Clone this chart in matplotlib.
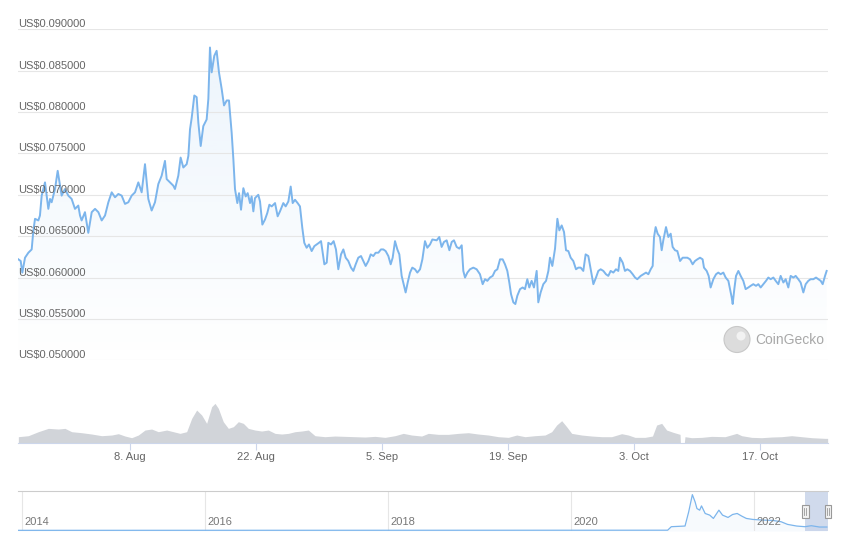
"""Recreate a CoinGecko style 90 day price chart with volume and navigator."""

import matplotlib

matplotlib.use("Agg")
import matplotlib.dates as mdates
import matplotlib.pyplot as plt
import numpy as np
import pandas as pd
from matplotlib.colors import to_rgb
from matplotlib.patches import Ellipse, Rectangle

plt.rcParams["font.family"] = ["Liberation Sans", "DejaVu Sans"]

# ---------------------------------------------------------------- data
RANGE_START = pd.Timestamp("2022-07-26 13:20")
RANGE_END = pd.Timestamp("2022-10-24 13:20")

# days after RANGE_START, price in USD
price_days = [
    0.04, 0.30, 0.48, 0.78, 1.15, 1.52, 1.70, 1.89, 2.26, 2.44, 2.63, 3.00, 3.19, 3.37, 3.56, 3.74,
    4.11, 4.41, 4.67, 4.85, 5.22, 5.59, 5.96, 6.33, 6.70, 6.89, 7.07, 7.44, 7.81, 8.19, 8.56, 8.93,
    9.30, 9.67, 10.04, 10.41, 10.78, 11.15, 11.52, 11.89, 12.26, 12.63, 13.00, 13.37, 13.74, 14.11,
    14.48, 14.85, 15.22, 15.59, 15.96, 16.33, 16.52, 16.89, 17.26, 17.44, 17.81, 18.07, 18.37, 18.74,
    18.93, 19.11, 19.30, 19.59, 19.85, 20.04, 20.30, 20.59, 20.96, 21.15, 21.33, 21.52, 21.81, 22.07,
    22.33, 22.63, 22.89, 23.19, 23.44, 23.74, 23.93, 24.11,
    24.19, 24.37, 24.56, 24.78, 25.04, 25.30, 25.52, 25.78, 25.96, 26.15, 26.33, 26.70, 26.89, 27.15,
    27.44, 27.70, 27.93, 28.19, 28.56, 28.85, 29.11, 29.48, 29.74, 30.04, 30.30, 30.52, 30.78, 31.07,
    31.33, 31.59, 31.81, 32.07, 32.33, 32.63, 32.93, 33.19, 33.44, 33.67, 33.85, 34.04, 34.30, 34.48,
    34.78, 35.07, 35.33, 35.59, 35.89, 36.15, 36.41, 36.70, 37.00, 37.26, 37.52, 37.81, 38.11, 38.37,
    38.63, 38.93, 39.19, 39.48, 39.74, 40.04, 40.33, 40.59, 40.85, 41.15, 41.41, 41.63, 41.89, 42.15,
    42.37, 42.63, 42.89, 43.07, 43.30, 43.56, 43.81, 44.11, 44.37, 44.67, 44.93, 45.22, 45.48, 45.78,
    46.04,
    46.52, 46.81, 47.07, 47.33, 47.63, 47.93, 48.19, 48.44, 48.74, 49.04, 49.30, 49.48, 49.67, 49.93,
    50.22, 50.59, 50.96, 51.33, 51.63, 51.89, 52.15, 52.44, 52.74, 53.00, 53.26, 53.56, 53.85, 54.11,
    54.37, 54.59, 54.78, 55.04, 55.26, 55.48, 55.78, 56.07, 56.33, 56.59, 56.81, 57.07, 57.33, 57.63,
    57.81, 58.07, 58.37, 58.67, 58.93, 59.11, 59.37, 59.67, 59.93, 60.15, 60.41, 60.67, 60.89, 61.15,
    61.41, 61.70, 62.00, 62.26, 62.52, 62.81, 63.07, 63.37, 63.63, 63.93, 64.22, 64.48, 64.74, 65.04,
    65.33, 65.59, 65.85, 66.15, 66.44, 66.70, 66.89, 67.19, 67.44, 67.70, 68.00, 68.30, 68.56, 68.81,
    69.19, 69.48, 69.78, 70.04, 70.30, 70.52, 70.67, 70.85, 71.07, 71.33, 71.52, 71.70, 72.00, 72.26,
    72.52, 72.74, 73.00, 73.26, 73.56, 73.85, 74.11, 74.37, 74.67, 74.96, 75.22, 75.48, 75.78, 76.07,
    76.22, 76.52, 76.74, 76.96, 77.26, 77.56, 77.81, 78.07, 78.37, 78.63, 78.93, 79.11, 79.30, 79.41,
    79.59, 79.78, 80.04, 80.30, 80.59, 80.85, 81.15, 81.41, 81.70, 82.00, 82.26, 82.52, 82.81, 83.11,
    83.37, 83.63, 83.93, 84.19, 84.48, 84.74, 85.04, 85.30, 85.59, 85.85, 86.15, 86.41, 86.70, 86.96,
    87.26, 87.52, 87.81, 88.07, 88.37, 88.67, 88.93, 89.19, 89.41, 89.67, 89.85,
]
price_usd = [
    0.0622, 0.0620, 0.0606, 0.0624, 0.0630, 0.0634, 0.0656, 0.0671, 0.0669, 0.0675, 0.0699, 0.0715,
    0.0699, 0.0683, 0.0695, 0.0691, 0.0707, 0.0729, 0.0711, 0.0699, 0.0707, 0.0699, 0.0695, 0.0683,
    0.0687, 0.0675, 0.0669, 0.0679, 0.0654, 0.0679, 0.0683, 0.0679, 0.0669, 0.0675, 0.0691, 0.0703,
    0.0697, 0.0701, 0.0699, 0.0689, 0.0691, 0.0699, 0.0703, 0.0715, 0.0703, 0.0737, 0.0695, 0.0681,
    0.0691, 0.0713, 0.0723, 0.0741, 0.0719, 0.0715, 0.0711, 0.0707, 0.0723, 0.0745, 0.0733, 0.0737,
    0.0747, 0.0779, 0.0793, 0.0820, 0.0818, 0.0787, 0.0759, 0.0783, 0.0791, 0.0816, 0.0878, 0.0848,
    0.0868, 0.0874, 0.0848, 0.0828, 0.0808, 0.0814, 0.0814, 0.0775, 0.0743, 0.0707,
    0.0702, 0.0690, 0.0702, 0.0682, 0.0708, 0.0698, 0.0702, 0.0690, 0.0698, 0.0680, 0.0696, 0.0700,
    0.0692, 0.0664, 0.0670, 0.0678, 0.0688, 0.0686, 0.0690, 0.0674, 0.0680, 0.0690, 0.0686, 0.0692,
    0.0710, 0.0690, 0.0694, 0.0690, 0.0686, 0.0660, 0.0642, 0.0636, 0.0640, 0.0632, 0.0638, 0.0640,
    0.0642, 0.0644, 0.0630, 0.0616, 0.0618, 0.0642, 0.0640, 0.0644, 0.0634, 0.0610, 0.0628, 0.0634,
    0.0624, 0.0620, 0.0612, 0.0608, 0.0616, 0.0624, 0.0626, 0.0620, 0.0614, 0.0620, 0.0628, 0.0626,
    0.0630, 0.0630, 0.0634, 0.0634, 0.0632, 0.0626, 0.0616, 0.0624, 0.0644, 0.0634, 0.0628, 0.0602,
    0.0590, 0.0582, 0.0594, 0.0606, 0.0612, 0.0610, 0.0606, 0.0610, 0.0622, 0.0644, 0.0636, 0.0640,
    0.0646,
    0.0645, 0.0649, 0.0637, 0.0643, 0.0645, 0.0633, 0.0643, 0.0645, 0.0637, 0.0635, 0.0639, 0.0608,
    0.0600, 0.0606, 0.0610, 0.0612, 0.0610, 0.0604, 0.0592, 0.0598, 0.0596, 0.0600, 0.0602, 0.0608,
    0.0610, 0.0622, 0.0622, 0.0616, 0.0608, 0.0594, 0.0580, 0.0570, 0.0568, 0.0578, 0.0586, 0.0588,
    0.0586, 0.0598, 0.0588, 0.0596, 0.0588, 0.0608, 0.0570, 0.0582, 0.0592, 0.0596, 0.0608, 0.0624,
    0.0614, 0.0635, 0.0671, 0.0657, 0.0663, 0.0655, 0.0633, 0.0632, 0.0624, 0.0620, 0.0610, 0.0612,
    0.0612, 0.0608, 0.0628, 0.0626, 0.0610, 0.0592, 0.0600, 0.0608, 0.0610, 0.0608, 0.0604, 0.0602,
    0.0608, 0.0606, 0.0610, 0.0608, 0.0624, 0.0618, 0.0608, 0.0610, 0.0608, 0.0604, 0.0600, 0.0598,
    0.0602, 0.0604, 0.0606, 0.0604, 0.0610, 0.0614, 0.0649, 0.0661, 0.0653, 0.0649, 0.0633, 0.0645,
    0.0661, 0.0649, 0.0653, 0.0637, 0.0633, 0.0632, 0.0620, 0.0624, 0.0624, 0.0624, 0.0622, 0.0616,
    0.0620, 0.0622, 0.0624, 0.0622, 0.0612, 0.0608, 0.0602, 0.0588, 0.0598, 0.0604, 0.0606, 0.0604,
    0.0606, 0.0600, 0.0596, 0.0586, 0.0576, 0.0568, 0.0586, 0.0602, 0.0608, 0.0602, 0.0596, 0.0586,
    0.0588, 0.0590, 0.0592, 0.0590, 0.0592, 0.0588, 0.0592, 0.0596, 0.0600, 0.0598, 0.0600, 0.0596,
    0.0592, 0.0602, 0.0594, 0.0598, 0.0588, 0.0602, 0.0600, 0.0602, 0.0598, 0.0594, 0.0582, 0.0592,
    0.0596, 0.0598, 0.0598, 0.0600, 0.0598, 0.0596, 0.0592, 0.0602, 0.0608,
]

# traded volume, relative units (the chart shows no scale for it)
volume_days = [
    0.04, 1.15, 2.26, 3.37, 4.48, 5.22, 5.96, 7.07, 8.19, 9.30, 10.41, 11.15, 11.89, 12.63, 13.37,
    14.11, 14.85, 15.59, 16.52, 17.26, 18.00, 18.74, 19.30, 19.85, 20.41, 20.96, 21.52, 21.89, 22.26,
    22.81, 23.37, 23.93, 24.48, 25.04, 25.59, 26.33, 27.07, 27.81, 28.56, 29.30, 30.04, 30.78, 31.52,
    32.26, 33.00, 34.11, 35.22, 36.33, 37.44, 38.56, 39.67, 40.78, 41.89, 42.81, 43.74, 44.85, 45.59,
    46.70, 47.81, 48.93, 50.04, 51.15, 52.26, 53.37, 54.48, 55.41, 56.33, 57.44, 58.56, 59.30, 59.85,
    60.41, 60.96, 61.52, 62.63, 63.74, 64.85, 65.96, 67.07, 67.81, 68.56, 69.67, 70.50, 70.96, 71.52,
    72.07, 72.81, 73.56, 73.60, 74.04, 74.11, 74.85, 75.96, 77.07, 78.56, 79.85, 80.41, 81.52, 82.63,
    83.74, 84.85, 85.96, 87.07, 88.19, 89.67, 89.96,
]
volume_rel = [
    18, 21, 33, 43, 41, 43, 33, 30, 26, 21, 23, 27, 20, 15, 23,
    38, 41, 33, 38, 33, 28, 33, 73, 98, 83, 58, 108, 118, 103,
    63, 43, 48, 63, 58, 43, 38, 35, 38, 28, 26, 28, 33, 35,
    38, 21, 18, 20, 19, 18, 17, 19, 16, 21, 28, 23, 20, 28,
    25, 25, 28, 30, 26, 23, 18, 16, 23, 18, 21, 23, 33, 53,
    66, 48, 28, 23, 20, 18, 18, 27, 23, 16, 16, 20, 53, 58,
    38, 31, 25, 0, 0, 18, 15, 16, 19, 18, 28, 21, 16, 15,
    17, 18, 21, 18, 15, 13, 13,
]

price_ticks = [0.050, 0.055, 0.060, 0.065, 0.070, 0.075, 0.080, 0.085, 0.090]
date_ticks = ["2022-08-08", "2022-08-22", "2022-09-05", "2022-09-19", "2022-10-03", "2022-10-17"]

# navigator: full history, decimal years and price in USD
nav_years = [
    2013.96, 2021.06, 2021.10, 2021.25, 2021.29, 2021.33, 2021.36, 2021.38, 2021.41, 2021.43,
    2021.47, 2021.52, 2021.56, 2021.62, 2021.66, 2021.72, 2021.77, 2021.82, 2021.87, 2021.92,
    2021.99, 2022.10, 2022.21, 2022.30, 2022.37, 2022.47, 2022.56, 2022.63, 2022.72, 2022.80,
]
nav_usd = [
    0.010, 0.012, 0.065, 0.075, 0.290, 0.550, 0.440, 0.340, 0.315, 0.380,
    0.265, 0.240, 0.190, 0.315, 0.240, 0.205, 0.250, 0.265, 0.225, 0.190,
    0.175, 0.165, 0.160, 0.140, 0.100, 0.075, 0.065, 0.080, 0.060, 0.060,
]
nav_year_ticks = [2014, 2016, 2018, 2020, 2022]

# ---------------------------------------------------------------- style
W, H = 845, 534
LINE = "#7cb5ec"
GRID = "#e6e6e6"
LABEL = "#666666"
VOLUME = "#d1d4d9"


def fig_box(x0, y0, x1, y1):
    """Pixel box (top-left origin) to figure fraction [left, bottom, width, height]."""
    return [x0 / W, 1 - y1 / H, (x1 - x0) / W, (y1 - y0) / H]


def to_num(days):
    stamps = RANGE_START + pd.to_timedelta(np.asarray(days, dtype=float), unit="D")
    return mdates.date2num(stamps.to_numpy())


def decimal_year(ts):
    start = pd.Timestamp(year=ts.year, month=1, day=1)
    return ts.year + (ts - start) / pd.Timedelta(days=365)


fig = plt.figure(figsize=(W / 100, H / 100), dpi=100)
fig.patch.set_facecolor("white")

x_lo, x_hi = mdates.date2num(RANGE_START), mdates.date2num(RANGE_END)

# price panel
ax = fig.add_axes(fig_box(18, 29.3, 828, 360.3))
t = to_num(price_days)
p = np.asarray(price_usd)

rgb = to_rgb(LINE)
grad = np.zeros((200, 1, 4))
grad[..., :3] = rgb
grad[..., 3] = np.linspace(0.0, 0.14, 200)[:, None]
img = ax.imshow(grad, extent=[t[0], t[-1], 0.050, p.max()], origin="lower",
                aspect="auto", zorder=1, interpolation="bilinear")
area = ax.fill_between(t, p, 0.050, facecolor="none", edgecolor="none")
img.set_clip_path(area.get_paths()[0], transform=ax.transData)

ax.plot(t, p, color=LINE, lw=1.4, zorder=3, solid_joinstyle="round")

ax.set_xlim(x_lo, x_hi)
ax.set_ylim(0.050, 0.090)
ax.set_yticks(price_ticks)
ax.set_xticks([])
ax.tick_params(axis="y", length=0, labelleft=False)
ax.grid(axis="y", color=GRID, lw=0.8, zorder=0)
for side in ax.spines.values():
    side.set_visible(False)
ax.patch.set_alpha(0)

for v in price_ticks:
    ax.annotate(f"US${v:.6f}", xy=(0, v), xycoords=ax.get_yaxis_transform(),
                xytext=(0, 0), textcoords="offset pixels", ha="left", va="bottom",
                fontsize=8, color=LABEL, zorder=4)

# watermark
fig.patches.append(Ellipse((737 / W, 1 - 339.5 / H), 26 / W, 26 / H, transform=fig.transFigure,
                           facecolor="#dcdcdc", edgecolor="#c8c8c8", lw=0.8, zorder=5))
fig.patches.append(Ellipse((741 / W, 1 - 336 / H), 9 / W, 9 / H, transform=fig.transFigure,
                           facecolor="#f2f2f2", edgecolor="none", zorder=6))
fig.text(755 / W, 1 - 339.5 / H, "CoinGecko", fontsize=10, color="#a8a8a8",
         ha="left", va="center")

# volume panel
axv = fig.add_axes(fig_box(18, 402.7, 828, 442.7))
tv = to_num(volume_days)
axv.fill_between(tv, volume_rel, 0, color=VOLUME, lw=0)
axv.set_xlim(x_lo, x_hi)
axv.set_ylim(0, 120)
axv.set_yticks([])
for name, side in axv.spines.items():
    side.set_visible(name == "bottom")
axv.spines["bottom"].set_color("#ccd6eb")
axv.spines["bottom"].set_linewidth(0.8)
tick_ts = [pd.Timestamp(d) for d in date_ticks]
axv.set_xticks(mdates.date2num([ts.to_pydatetime() for ts in tick_ts]))
axv.set_xticklabels([f"{ts.day}. {ts:%b}" for ts in tick_ts])
axv.tick_params(axis="x", length=5, width=0.8, color="#ccd6eb", labelsize=8,
                labelcolor=LABEL, pad=2)
axv.patch.set_alpha(0)

# navigator
axn = fig.add_axes(fig_box(18, 491, 828, 531))
nav_lo = decimal_year(RANGE_START)
nav_hi = decimal_year(RANGE_END)
axn.set_xlim(2013.96, nav_hi)
axn.set_ylim(0, 0.605)
axn.fill_between(nav_years, nav_usd, 0, color=LINE, alpha=0.06, lw=0)
axn.plot(nav_years, nav_usd, color=LINE, lw=0.9)
axn.set_xticks(nav_year_ticks)
axn.tick_params(axis="both", length=0, labelbottom=False, labelleft=False)
axn.set_yticks([])
axn.grid(axis="x", color=GRID, lw=0.8)
for name, side in axn.spines.items():
    side.set_visible(name == "top")
axn.spines["top"].set_color("#cccccc")
axn.spines["top"].set_linewidth(0.8)
for yr in nav_year_ticks:
    axn.annotate(str(yr), xy=(yr, 0.22), xycoords=axn.get_xaxis_transform(),
                 xytext=(3, 0), textcoords="offset pixels", ha="left", va="center",
                 fontsize=8, color="#777777")

axn.axvspan(nav_lo, nav_hi, color=(102 / 255, 133 / 255, 194 / 255), alpha=0.3, lw=0)
hw = 7 / 91.5
for edge in (nav_lo, nav_hi):
    handle = Rectangle((edge - hw / 2, 0.32), hw, 0.33, transform=axn.get_xaxis_transform(),
                       facecolor="#f2f2f2", edgecolor="#999999", lw=0.8, zorder=6,
                       clip_on=False)
    axn.add_patch(handle)
    for dx in (-0.25, 0.25):
        axn.plot([edge + dx * hw * 0.6] * 2, [0.40, 0.57], transform=axn.get_xaxis_transform(),
                 color="#999999", lw=0.6, zorder=7, clip_on=False)
axn.patch.set_alpha(0)

fig.savefig("out.png", dpi=100, facecolor="white")
